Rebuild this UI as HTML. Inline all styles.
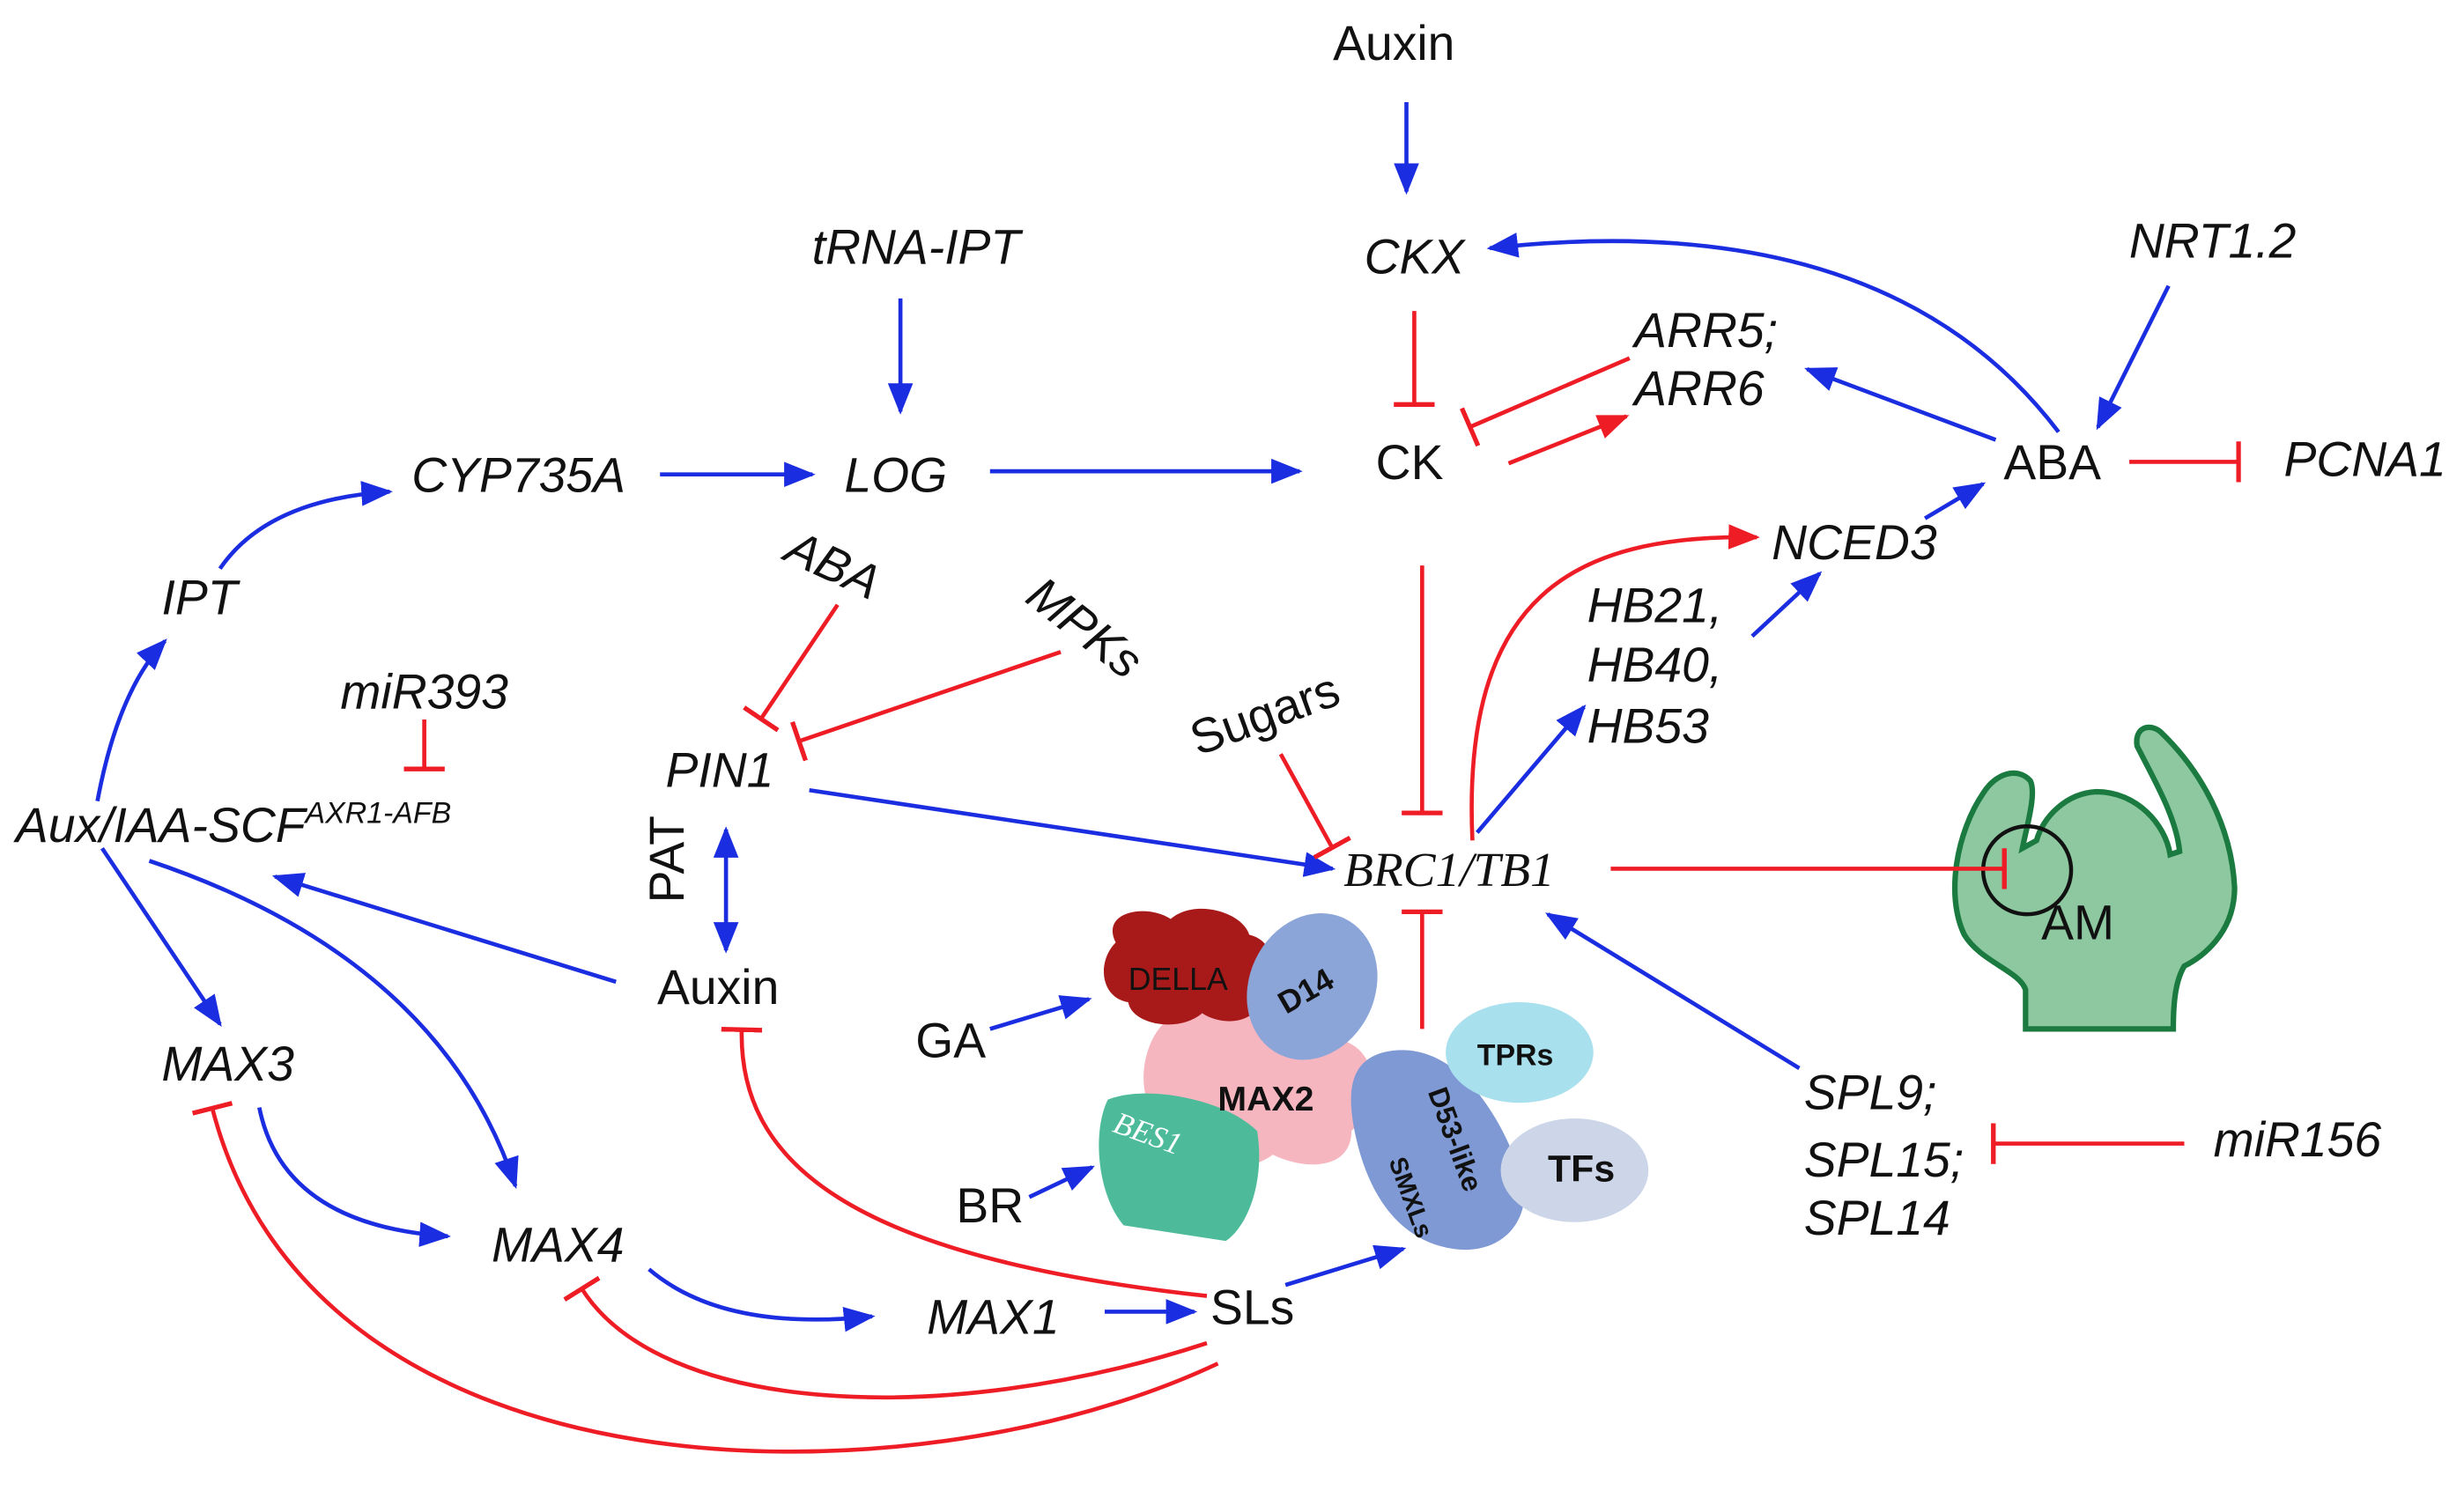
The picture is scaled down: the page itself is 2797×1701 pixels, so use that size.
<!DOCTYPE html>
<html><head><meta charset="utf-8"><style>
html,body{margin:0;padding:0;background:#fff;}
svg{display:block;}
text{font-family:"Liberation Sans",sans-serif;font-size:31px;fill:#111;}
.i{font-style:italic;}
</style></head><body>
<svg width="2797" height="1701" viewBox="0 0 1568 953.6" preserveAspectRatio="none" xmlns="http://www.w3.org/2000/svg">
<defs>
<marker id="b" markerUnits="userSpaceOnUse" markerWidth="20" markerHeight="16" refX="18" refY="8" orient="auto"><path d="M0,0 L20,8 L0,16 z" fill="#1a2de0"/></marker>
<marker id="r" markerUnits="userSpaceOnUse" markerWidth="20" markerHeight="16" refX="18" refY="8" orient="auto"><path d="M0,0 L20,8 L0,16 z" fill="#ee1c25"/></marker>
<marker id="t" markerUnits="userSpaceOnUse" markerWidth="4" markerHeight="26" refX="2" refY="13" orient="auto"><rect x="0" y="0" width="3" height="26" fill="#ee1c25"/></marker>
<marker id="bs" markerUnits="userSpaceOnUse" markerWidth="20" markerHeight="16" refX="2" refY="8" orient="auto"><path d="M20,0 L0,8 L20,16 z" fill="#1a2de0"/></marker>
</defs>
<!-- AM plant -->
<g>
<path d="M1289,655 L1289,630 C1285,618 1260,612 1250,595 C1238,570 1245,530 1262,505 C1270,492 1284,488 1292,497 C1296,505 1290,525 1287,540 L1296,535 C1300,520 1315,505 1334,504 C1360,504 1378,525 1381,544 L1387,542 C1385,520 1370,495 1360,475 C1358,463 1368,460 1375,466 C1400,490 1420,525 1422,565 C1422,595 1400,610 1390,615 C1384,625 1383,640 1383,655 Z" fill="#8dc8a0" stroke="#1b7a3f" stroke-width="3.5"/>
<circle cx="1290" cy="554" r="28" fill="none" stroke="#111" stroke-width="2.5"/>
<text x="1299" y="598">AM</text>
</g>
<g fill="none" stroke="#1a2de0" stroke-width="2.6" marker-end="url(#b)">
<path d="M895,65 L895,122"/>
<path d="M573,190 L573,262"/>
<path d="M1380,182 L1335,272"/>
<path d="M420,302 L517,302"/>
<path d="M630,300 L827,300"/>
<path d="M1270,280 L1150,235"/>
<path d="M1310,275 Q1200,130 948,158"/>
<path d="M1225,330 L1262,308"/>
<path d="M940,530 L1008,450"/>
<path d="M1115,405 L1158,365"/>
<path d="M62,510 Q75,440 105,408"/>
<path d="M140,362 Q170,318 248,313"/>
<path d="M462,528 L462,605" marker-start="url(#bs)"/>
<path d="M515,503 L848,553"/>
<path d="M392,625 L175,558"/>
<path d="M65,540 L140,652"/>
<path d="M95,548 Q280,610 328,755"/>
<path d="M165,705 Q180,780 285,787"/>
<path d="M413,808 Q460,848 555,838"/>
<path d="M703,835 L760,835"/>
<path d="M818,818 L893,795"/>
<path d="M1145,680 L985,582"/>
<path d="M630,655 L693,636"/>
<path d="M655,762 L695,743"/>
</g>
<g fill="none" stroke="#ee1c25" stroke-width="2.6">
<path d="M900,198 L900,258" marker-end="url(#t)"/>
<path d="M1037,228 L935,272" marker-end="url(#t)"/>
<path d="M960,295 L1035,265" marker-end="url(#r)"/>
<path d="M1355,294 L1425,294" marker-end="url(#t)"/>
<path d="M905,360 L905,518" marker-end="url(#t)"/>
<path d="M937,535 C930,380 1000,340 1118,342" marker-end="url(#r)"/>
<path d="M270,458 L270,490" marker-end="url(#t)"/>
<path d="M533,385 L484,458" marker-end="url(#t)"/>
<path d="M675,415 L508,472" marker-end="url(#t)"/>
<path d="M815,480 L848,540" marker-end="url(#t)"/>
<path d="M768,825 C540,800 470,740 472,655" marker-end="url(#t)"/>
<path d="M768,855 C600,910 420,900 370,820" marker-end="url(#t)"/>
<path d="M775,868 C580,960 200,960 135,705" marker-end="url(#t)"/>
<path d="M1025,553 L1276,553" marker-end="url(#t)"/>
<path d="M905,655 L905,580" marker-end="url(#t)"/>
<path d="M1390,728 L1268,728" marker-end="url(#t)"/>
</g>
<!-- proteins -->
<g>
<path d="M742,650 C760,640 800,640 840,660 C880,660 880,700 860,720 C860,745 830,745 810,735 C790,750 750,745 745,720 C720,705 725,665 742,650 Z" fill="#f6b6c0"/>
<path d="M710,600 C700,580 730,575 745,585 C760,572 790,580 795,595 C815,600 812,625 800,632 C805,650 780,655 765,645 C750,658 720,652 718,638 C700,635 698,612 710,600 Z" fill="#a81a1a"/>
<ellipse cx="835" cy="628" rx="40" ry="48" transform="rotate(25 835 628)" fill="#8ca5d8"/>
<path d="M705,700 C730,690 780,700 800,720 C805,750 795,780 780,790 L715,780 C698,760 695,720 705,700 Z" fill="#4dbb9a"/>
<path d="M880,670 C920,660 950,700 965,740 C980,770 960,800 925,795 C890,790 870,760 862,720 C856,690 862,675 880,670 Z" fill="#7e99d3"/>
<ellipse cx="967" cy="670" rx="47" ry="32" fill="#a9e0ee"/>
<ellipse cx="1002" cy="745" rx="47" ry="33" fill="#ccd6e8"/>
<text x="718" y="630" style="font-size:20px;fill:#111">DELLA</text>
<text x="812" y="638" transform="rotate(-30 830 630)" style="font-size:20px;font-weight:bold">D14</text>
<text x="775" y="707" style="font-size:22px;font-weight:bold">MAX2</text>
<text x="708" y="728" transform="rotate(20 730 722)" style="font-size:20px;font-family:'Liberation Serif',serif;font-style:italic;fill:#fff">BES1</text>
<text x="940" y="678" style="font-size:19px;font-weight:bold">TPRs</text>
<text x="985" y="752" style="font-size:24px;font-weight:bold">TFs</text>
<text x="870" y="710" transform="rotate(70 900 730)" style="font-size:18px;font-weight:bold">D53-like</text>
<text x="855" y="740" transform="rotate(70 870 760)" style="font-size:16px;font-weight:bold">SMXLs</text>
</g>
<!-- labels -->
<text x="887" y="38" text-anchor="middle">Auxin</text>
<text x="900" y="174" text-anchor="middle" class="i">CKX</text>
<text x="583" y="168" text-anchor="middle" class="i">tRNA-IPT</text>
<text x="1408" y="164" text-anchor="middle" class="i">NRT1.2</text>
<text x="330" y="313" text-anchor="middle" class="i">CYP735A</text>
<text x="570" y="313" text-anchor="middle" class="i">LOG</text>
<text x="897" y="305" text-anchor="middle">CK</text>
<text x="1306" y="305" text-anchor="middle">ABA</text>
<text x="1505" y="303" text-anchor="middle" class="i">PCNA1</text>
<text x="1040" y="221" class="i">ARR5;</text>
<text x="1040" y="258" class="i">ARR6</text>
<text x="1180" y="356" text-anchor="middle" class="i">NCED3</text>
<text x="1010" y="396" class="i">HB21,</text>
<text x="1010" y="434" class="i">HB40,</text>
<text x="1010" y="473" class="i">HB53</text>
<text x="855" y="564" class="i" style="font-family:'Liberation Serif',serif">BRC1/TB1</text>
<text x="127" y="391" text-anchor="middle" class="i">IPT</text>
<text x="270" y="451" text-anchor="middle" class="i">miR393</text>
<text x="10" y="536" class="i">Aux/IAA-SCF<tspan dy="-12" style="font-size:19px">AXR1-AFB</tspan></text>
<text x="530" y="370" text-anchor="middle" class="i" transform="rotate(25 530 360)">ABA</text>
<text x="690" y="410" text-anchor="middle" class="i" transform="rotate(38 690 400)">MPKs</text>
<text x="458" y="501" text-anchor="middle" class="i">PIN1</text>
<text x="443" y="555" text-anchor="middle" transform="rotate(-90 435 555)">PAT</text>
<text x="457" y="639" text-anchor="middle">Auxin</text>
<text x="805" y="465" text-anchor="middle" transform="rotate(-20 805 455)">Sugars</text>
<text x="145" y="688" text-anchor="middle" class="i">MAX3</text>
<text x="355" y="803" text-anchor="middle" class="i">MAX4</text>
<text x="632" y="849" text-anchor="middle" class="i">MAX1</text>
<text x="797" y="843" text-anchor="middle">SLs</text>
<text x="1148" y="706" class="i">SPL9;</text>
<text x="1148" y="749" class="i">SPL15;</text>
<text x="1148" y="786" class="i">SPL14</text>
<text x="1462" y="736" text-anchor="middle" class="i">miR156</text>
<text x="605" y="673" text-anchor="middle">GA</text>
<text x="630" y="778" text-anchor="middle">BR</text>
</svg>
</body></html>
